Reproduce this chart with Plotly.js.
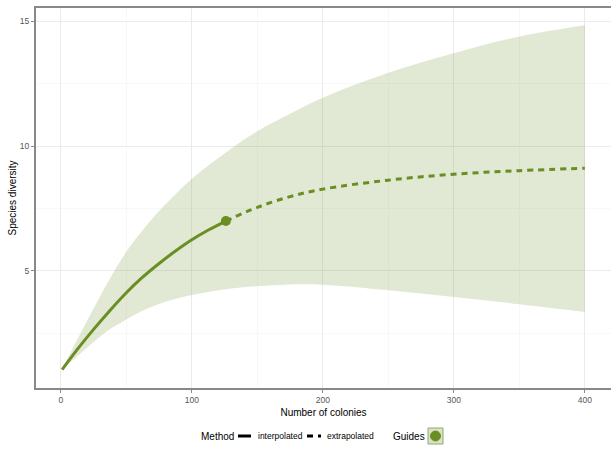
<!DOCTYPE html>
<html>
<head>
<meta charset="utf-8">
<script src="https://cdn.plot.ly/plotly-3.0.1.min.js"></script>
<style>html,body{margin:0;padding:0;background:#fff;}#chart{width:611px;height:453px;}</style>
</head>
<body>
<div id="chart"></div>
<script>
// Interpolated (observed) rarefaction curve
const interpX = [1, 12, 25, 37, 50, 62, 75, 87, 100, 113, 126];
const interpY = [1.05, 1.82, 2.66, 3.39, 4.13, 4.73, 5.3, 5.78, 6.25, 6.65, 7.0];
// Extrapolated curve
const extrapX = [126, 150, 175, 200, 250, 300, 350, 400];
const extrapY = [7.0, 7.55, 7.98, 8.28, 8.64, 8.88, 9.02, 9.12];
// Confidence band
const bandX = [1, 12, 25, 37, 50, 62, 75, 87, 100, 126, 150, 175, 200, 250, 300, 350, 400];
const upperY = [1.05, 2.2, 3.5, 4.65, 5.77, 6.6, 7.4, 8.05, 8.7, 9.75, 10.6, 11.3, 11.94, 12.94, 13.73, 14.4, 14.85];
const lowerY = [1.05, 1.55, 2.15, 2.65, 3.06, 3.4, 3.68, 3.88, 4.04, 4.27, 4.39, 4.46, 4.45, 4.23, 3.96, 3.67, 3.36];
// Observed point
const obsX = [126];
const obsY = [7.0];
// Legend labels
const legendTitle = 'Method';
const methodLabels = ['interpolated', 'extrapolated'];
const guidesTitle = 'Guides';

const green = '#6b8e23';
const fill = 'rgba(107,142,35,0.2)';

const traces = [
  {x: bandX, y: lowerY, mode: 'lines', line: {width: 0, color: fill, shape: 'spline'}, showlegend: false, hoverinfo: 'skip'},
  {x: bandX, y: upperY, mode: 'lines', line: {width: 0, color: fill, shape: 'spline'}, fill: 'tonexty', fillcolor: fill, showlegend: false, hoverinfo: 'skip'},
  {x: interpX, y: interpY, mode: 'lines', line: {color: green, width: 3, shape: 'spline'}, showlegend: false},
  {x: extrapX, y: extrapY, mode: 'lines', line: {color: green, width: 3, dash: '6px,5px', shape: 'spline'}, showlegend: false},
  {x: obsX, y: obsY, mode: 'markers', marker: {color: green, size: 10}, showlegend: false}
];

// Legend geometry (paper coords; plot area spans px 36..611 horizontally, 8..388 vertically)
const px = v => (v - 36) / 575;
const py = v => (388 - v) / 380;
const ly = py(436);

const annotations = [
  {text: legendTitle, x: px(199), y: ly, xref: 'paper', yref: 'paper', xanchor: 'left', yanchor: 'middle', showarrow: false, font: {size: 10, color: '#000'}},
  {text: methodLabels[0], x: px(256), y: ly, xref: 'paper', yref: 'paper', xanchor: 'left', yanchor: 'middle', showarrow: false, font: {size: 8.5, color: '#000'}},
  {text: methodLabels[1], x: px(325), y: ly, xref: 'paper', yref: 'paper', xanchor: 'left', yanchor: 'middle', showarrow: false, font: {size: 8.5, color: '#000'}},
  {text: guidesTitle, x: px(391), y: ly, xref: 'paper', yref: 'paper', xanchor: 'left', yanchor: 'middle', showarrow: false, font: {size: 10, color: '#000'}}
];

const shapes = [
  {type: 'line', xref: 'paper', yref: 'paper', x0: px(238), x1: px(251), y0: ly, y1: ly, line: {color: '#000', width: 3}},
  {type: 'line', xref: 'paper', yref: 'paper', x0: px(307), x1: px(321), y0: ly, y1: ly, line: {color: '#000', width: 3, dash: '6px,5px'}},
  {type: 'rect', xref: 'paper', yref: 'paper', x0: px(428), x1: px(443), y0: py(444), y1: py(428), line: {color: '#8fa86a', width: 1}, fillcolor: 'rgba(107,142,35,0.25)'},
  {type: 'circle', xref: 'paper', yref: 'paper', x0: px(430.5), x1: px(440.5), y0: py(441), y1: py(431), line: {color: green, width: 1}, fillcolor: green}
];

const layout = {
  width: 611, height: 453,
  margin: {l: 36, r: 0, t: 8, b: 65},
  paper_bgcolor: '#fff', plot_bgcolor: '#fff',
  font: {family: 'Liberation Sans, Arial, sans-serif', color: '#000'},
  showlegend: false,
  xaxis: {
    range: [-18.95, 419.95], tickvals: [0, 100, 200, 300, 400],
    showgrid: true, gridcolor: '#ebebeb', gridwidth: 1,
    minor: {tickvals: [50, 150, 250, 350], showgrid: true, gridcolor: '#f3f3f3', gridwidth: 0.6},
    zeroline: false, showline: true, linecolor: '#888', linewidth: 2, mirror: true,
    ticks: 'outside', ticklen: 3, tickcolor: '#888',
    tickfont: {size: 8.5, color: '#555'},
    title: {text: 'Number of colonies', font: {size: 10, color: '#000'}, standoff: 5}
  },
  yaxis: {
    range: [0.31, 15.54], tickvals: [5, 10, 15],
    showgrid: true, gridcolor: '#ebebeb', gridwidth: 1,
    minor: {tickvals: [2.5, 7.5, 12.5], showgrid: true, gridcolor: '#f3f3f3', gridwidth: 0.6},
    zeroline: false, showline: true, linecolor: '#888', linewidth: 2, mirror: true,
    ticks: 'outside', ticklen: 3, tickcolor: '#888',
    tickfont: {size: 8.5, color: '#555'},
    title: {text: 'Species diversity', font: {size: 10, color: '#000'}, standoff: 1}
  },
  annotations: annotations,
  shapes: shapes
};

Plotly.newPlot('chart', traces, layout, {displayModeBar: false, staticPlot: true});
</script>
</body>
</html>
